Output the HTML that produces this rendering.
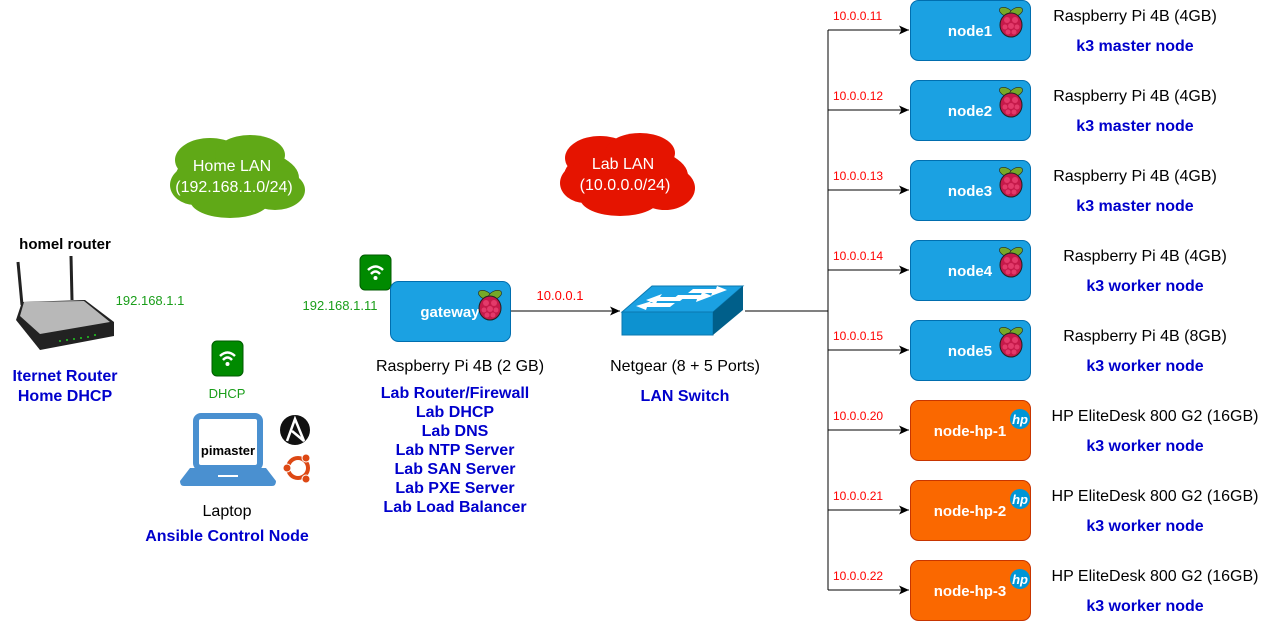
<!DOCTYPE html>
<html><head><meta charset="utf-8"><style>
body{margin:0;background:#fff}
svg{display:block;font-family:"Liberation Sans",sans-serif}
</style></head><body>
<svg width="1261" height="621" viewBox="0 0 1261 621" xmlns="http://www.w3.org/2000/svg">
<defs>
<marker id="ar" markerWidth="12" markerHeight="12" refX="10" refY="6" orient="auto" markerUnits="userSpaceOnUse"><path d="M0,1.5 L10,6 L0,10.5 L2.5,6 Z" fill="#000"/></marker>
<g id="rpi">
<ellipse cx="-5" cy="-10" rx="7" ry="4" fill="#75a928" stroke="#222" stroke-width="0.6" transform="rotate(25 -5 -10)"/>
<ellipse cx="5" cy="-10" rx="7" ry="4" fill="#75a928" stroke="#222" stroke-width="0.6" transform="rotate(-25 5 -10)"/>
<ellipse cx="0" cy="3" rx="11" ry="12" fill="#c51a4a" stroke="#222" stroke-width="1"/>
<circle cx="-4" cy="-2" r="3" fill="#e33a6a"/><circle cx="4" cy="-2" r="3" fill="#e33a6a"/><circle cx="0" cy="4" r="3" fill="#e33a6a"/><circle cx="-6" cy="5" r="2.5" fill="#e33a6a"/><circle cx="6" cy="5" r="2.5" fill="#e33a6a"/><circle cx="-3" cy="10" r="2.5" fill="#e33a6a"/><circle cx="3" cy="10" r="2.5" fill="#e33a6a"/>
</g>
<g id="hp"><circle r="10" fill="#0096d6"/><text x="0" y="5" font-size="13" font-style="italic" font-weight="bold" fill="#fff" text-anchor="middle">hp</text></g>
<g id="wifi"><rect x="0" y="0" width="31" height="35" rx="5" fill="#008a00" stroke="#005a00"/><path d="M8,15 Q15.5,8 23,15" stroke="#fff" stroke-width="2.5" fill="none"/><path d="M11,19 Q15.5,14 20,19" stroke="#fff" stroke-width="2.5" fill="none"/><circle cx="15.5" cy="23" r="2" fill="#fff"/></g>
</defs>

<!-- clouds -->
<g fill="#60a917">
<ellipse cx="237" cy="178" rx="62" ry="30"/><ellipse cx="210" cy="160" rx="35" ry="22"/><ellipse cx="250" cy="155" rx="35" ry="20"/><ellipse cx="275" cy="190" rx="30" ry="20"/><ellipse cx="230" cy="200" rx="40" ry="18"/><ellipse cx="195" cy="185" rx="25" ry="20"/>
</g>
<text x="232" y="171" font-size="16" fill="#fff" text-anchor="middle">Home LAN</text>
<text x="234" y="192" font-size="16" fill="#fff" text-anchor="middle">(192.168.1.0/24)</text>
<g fill="#e51400">
<ellipse cx="626" cy="176" rx="62" ry="30"/><ellipse cx="600" cy="158" rx="35" ry="22"/><ellipse cx="640" cy="153" rx="35" ry="20"/><ellipse cx="665" cy="188" rx="30" ry="22"/><ellipse cx="620" cy="198" rx="40" ry="18"/><ellipse cx="585" cy="183" rx="25" ry="20"/>
</g>
<text x="623" y="169" font-size="16" fill="#fff" text-anchor="middle">Lab LAN</text>
<text x="625" y="190" font-size="16" fill="#fff" text-anchor="middle">(10.0.0.0/24)</text>

<!-- router -->
<text x="65" y="249" font-size="15" font-weight="bold" text-anchor="middle">homel router</text>
<line x1="18" y1="262" x2="22" y2="305" stroke="#222" stroke-width="3"/>
<line x1="71" y1="256" x2="72" y2="300" stroke="#222" stroke-width="3"/>
<path d="M22,302 L85,300 L114,322 L114,336 L40,350 L16,320 Z" fill="#222"/>
<path d="M24,302 L84,301 L110,322 L40,334 L20,316 Z" fill="#b8b8b8"/>
<g fill="#2c2">
<circle cx="60" cy="341" r="1"/><circle cx="67" cy="340" r="1"/><circle cx="74" cy="339" r="1"/><circle cx="81" cy="338" r="1"/><circle cx="88" cy="337" r="1"/><circle cx="95" cy="335" r="1"/>
</g>
<text x="150" y="305" font-size="13" fill="#1a9e1a" text-anchor="middle">192.168.1.1</text>
<text x="65" y="381" font-size="16" font-weight="bold" fill="#0000cc" text-anchor="middle">Iternet Router</text>
<text x="65" y="401" font-size="16" font-weight="bold" fill="#0000cc" text-anchor="middle">Home DHCP</text>

<!-- laptop -->
<use href="#wifi" x="212" y="341"/>
<text x="227" y="398" font-size="13" fill="#1a9e1a" text-anchor="middle">DHCP</text>
<rect x="196" y="416" width="64" height="52" rx="5" fill="#fff" stroke="#4a90d0" stroke-width="6"/>
<path d="M190,468 L266,468 L276,481 Q276,486 272,486 L184,486 Q180,486 180,481 Z" fill="#4a90d0"/>
<rect x="218" y="475" width="20" height="2" fill="#fff"/>
<text x="228" y="455" font-size="13" font-weight="bold" text-anchor="middle">pimaster</text>
<circle cx="295" cy="430" r="15" fill="#111"/>
<path d="M287,441 L295,419 L304,441 L292,431" stroke="#fff" stroke-width="2.5" fill="none"/>
<circle cx="298" cy="468" r="10" fill="none" stroke="#dd4814" stroke-width="4"/>
<circle cx="287" cy="468" r="4" fill="#dd4814" stroke="#fff"/><circle cx="306" cy="458" r="4" fill="#dd4814" stroke="#fff"/><circle cx="306" cy="479" r="4" fill="#dd4814" stroke="#fff"/>
<text x="227" y="516" font-size="16" text-anchor="middle">Laptop</text>
<text x="227" y="541" font-size="16" font-weight="bold" fill="#0000cc" text-anchor="middle">Ansible Control Node</text>

<!-- gateway -->
<use href="#wifi" x="360" y="255"/>
<text x="340" y="310" font-size="13" fill="#1a9e1a" text-anchor="middle">192.168.1.11</text>
<rect x="390.5" y="281.5" width="120" height="60" rx="8" fill="#1ba1e2" stroke="#006eaf"/>
<text x="450" y="317" font-size="15" font-weight="bold" fill="#fff" text-anchor="middle">gateway</text>
<use href="#rpi" x="490" y="305"/>
<text x="460" y="371" font-size="16" text-anchor="middle">Raspberry Pi 4B (2 GB)</text>
<g font-size="16" font-weight="bold" fill="#0000cc" text-anchor="middle">
<text x="455" y="398">Lab Router/Firewall</text>
<text x="455" y="417">Lab DHCP</text>
<text x="455" y="436">Lab DNS</text>
<text x="455" y="455">Lab NTP Server</text>
<text x="455" y="474">Lab SAN Server</text>
<text x="455" y="493">Lab PXE Server</text>
<text x="455" y="512">Lab Load Balancer</text>
</g>
<line x1="511" y1="311" x2="620" y2="311" stroke="#000" marker-end="url(#ar)"/>
<text x="560" y="300" font-size="13" fill="#f00" text-anchor="middle">10.0.0.1</text>

<!-- switch -->
<path d="M622,312 L652,286 L743,286 L713,312 Z" fill="#1ba1e2" stroke="#0a78b0"/>
<path d="M622,312 L713,312 L713,335 L622,335 Z" fill="#0d92d0" stroke="#0a78b0"/>
<path d="M713,312 L743,286 L743,310 L713,335 Z" fill="#005f8a"/>
<g fill="#fff">
<path d="M646,300 L662,294 L660,297 L685,297 L680,301 L657,301 L656,304 Z"/>
<path d="M636,306 L652,301 L650,303 L675,303 L670,307 L647,307 L646,310 Z"/>
<path d="M727,290 L711,296 L712,293 L688,293 L693,289 L716,289 L717,286 Z"/>
<path d="M712,296 L696,302 L697,299 L673,299 L678,295 L701,295 L702,292 Z"/>
</g>
<text x="685" y="371" font-size="16" text-anchor="middle">Netgear (8 + 5 Ports)</text>
<text x="685" y="401" font-size="16" font-weight="bold" fill="#0000cc" text-anchor="middle">LAN Switch</text>
<line x1="745" y1="311" x2="828" y2="311" stroke="#000"/>
<line x1="828" y1="30" x2="828" y2="590" stroke="#000"/>

<!-- nodes -->
<g>
<g transform="translate(0,0)"><line x1="828" y1="30" x2="909" y2="30" stroke="#000" marker-end="url(#ar)"/><text x="833" y="20" font-size="12" fill="#f00">10.0.0.11</text><rect x="910.5" y="0.5" width="120" height="60" rx="8" fill="#1ba1e2" stroke="#006eaf"/><text x="970" y="36" font-size="15" font-weight="bold" fill="#fff" text-anchor="middle">node1</text><use href="#rpi" x="1011" y="22"/><text x="1135" y="21" font-size="16" text-anchor="middle">Raspberry Pi 4B (4GB)</text><text x="1135" y="51" font-size="16" font-weight="bold" fill="#0000cc" text-anchor="middle">k3 master node</text></g>
<g transform="translate(0,80)"><line x1="828" y1="30" x2="909" y2="30" stroke="#000" marker-end="url(#ar)"/><text x="833" y="20" font-size="12" fill="#f00">10.0.0.12</text><rect x="910.5" y="0.5" width="120" height="60" rx="8" fill="#1ba1e2" stroke="#006eaf"/><text x="970" y="36" font-size="15" font-weight="bold" fill="#fff" text-anchor="middle">node2</text><use href="#rpi" x="1011" y="22"/><text x="1135" y="21" font-size="16" text-anchor="middle">Raspberry Pi 4B (4GB)</text><text x="1135" y="51" font-size="16" font-weight="bold" fill="#0000cc" text-anchor="middle">k3 master node</text></g>
<g transform="translate(0,160)"><line x1="828" y1="30" x2="909" y2="30" stroke="#000" marker-end="url(#ar)"/><text x="833" y="20" font-size="12" fill="#f00">10.0.0.13</text><rect x="910.5" y="0.5" width="120" height="60" rx="8" fill="#1ba1e2" stroke="#006eaf"/><text x="970" y="36" font-size="15" font-weight="bold" fill="#fff" text-anchor="middle">node3</text><use href="#rpi" x="1011" y="22"/><text x="1135" y="21" font-size="16" text-anchor="middle">Raspberry Pi 4B (4GB)</text><text x="1135" y="51" font-size="16" font-weight="bold" fill="#0000cc" text-anchor="middle">k3 master node</text></g>
<g transform="translate(0,240)"><line x1="828" y1="30" x2="909" y2="30" stroke="#000" marker-end="url(#ar)"/><text x="833" y="20" font-size="12" fill="#f00">10.0.0.14</text><rect x="910.5" y="0.5" width="120" height="60" rx="8" fill="#1ba1e2" stroke="#006eaf"/><text x="970" y="36" font-size="15" font-weight="bold" fill="#fff" text-anchor="middle">node4</text><use href="#rpi" x="1011" y="22"/><text x="1145" y="21" font-size="16" text-anchor="middle">Raspberry Pi 4B (4GB)</text><text x="1145" y="51" font-size="16" font-weight="bold" fill="#0000cc" text-anchor="middle">k3 worker node</text></g>
<g transform="translate(0,320)"><line x1="828" y1="30" x2="909" y2="30" stroke="#000" marker-end="url(#ar)"/><text x="833" y="20" font-size="12" fill="#f00">10.0.0.15</text><rect x="910.5" y="0.5" width="120" height="60" rx="8" fill="#1ba1e2" stroke="#006eaf"/><text x="970" y="36" font-size="15" font-weight="bold" fill="#fff" text-anchor="middle">node5</text><use href="#rpi" x="1011" y="22"/><text x="1145" y="21" font-size="16" text-anchor="middle">Raspberry Pi 4B (8GB)</text><text x="1145" y="51" font-size="16" font-weight="bold" fill="#0000cc" text-anchor="middle">k3 worker node</text></g>
<g transform="translate(0,400)"><line x1="828" y1="30" x2="909" y2="30" stroke="#000" marker-end="url(#ar)"/><text x="833" y="20" font-size="12" fill="#f00">10.0.0.20</text><rect x="910.5" y="0.5" width="120" height="60" rx="8" fill="#fa6800" stroke="#c73500"/><text x="970" y="36" font-size="15" font-weight="bold" fill="#fff" text-anchor="middle">node-hp-1</text><use href="#hp" x="1020" y="19"/><text x="1155" y="21" font-size="16" text-anchor="middle">HP EliteDesk 800 G2 (16GB)</text><text x="1145" y="51" font-size="16" font-weight="bold" fill="#0000cc" text-anchor="middle">k3 worker node</text></g>
<g transform="translate(0,480)"><line x1="828" y1="30" x2="909" y2="30" stroke="#000" marker-end="url(#ar)"/><text x="833" y="20" font-size="12" fill="#f00">10.0.0.21</text><rect x="910.5" y="0.5" width="120" height="60" rx="8" fill="#fa6800" stroke="#c73500"/><text x="970" y="36" font-size="15" font-weight="bold" fill="#fff" text-anchor="middle">node-hp-2</text><use href="#hp" x="1020" y="19"/><text x="1155" y="21" font-size="16" text-anchor="middle">HP EliteDesk 800 G2 (16GB)</text><text x="1145" y="51" font-size="16" font-weight="bold" fill="#0000cc" text-anchor="middle">k3 worker node</text></g>
<g transform="translate(0,560)"><line x1="828" y1="30" x2="909" y2="30" stroke="#000" marker-end="url(#ar)"/><text x="833" y="20" font-size="12" fill="#f00">10.0.0.22</text><rect x="910.5" y="0.5" width="120" height="60" rx="8" fill="#fa6800" stroke="#c73500"/><text x="970" y="36" font-size="15" font-weight="bold" fill="#fff" text-anchor="middle">node-hp-3</text><use href="#hp" x="1020" y="19"/><text x="1155" y="21" font-size="16" text-anchor="middle">HP EliteDesk 800 G2 (16GB)</text><text x="1145" y="51" font-size="16" font-weight="bold" fill="#0000cc" text-anchor="middle">k3 worker node</text></g>
</g>
</svg>
</body></html>
